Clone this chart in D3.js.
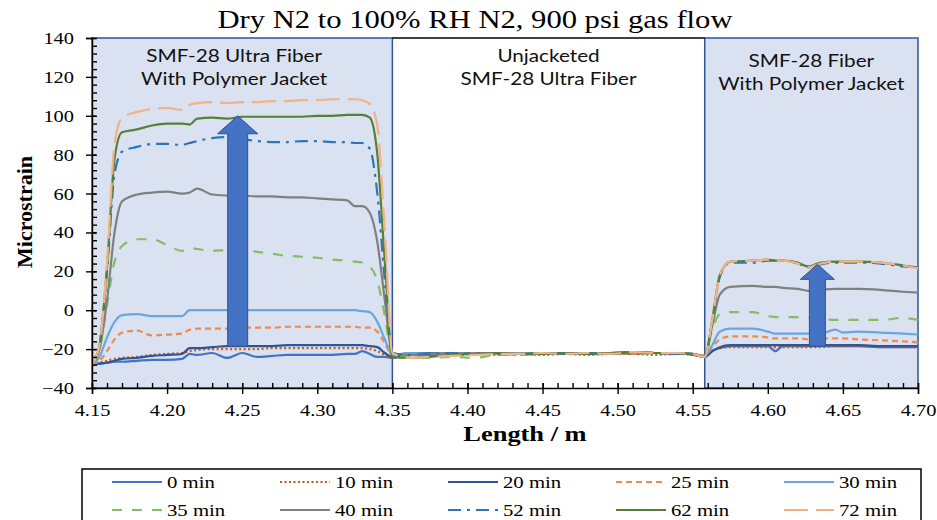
<!DOCTYPE html>
<html lang="en">
<head>
  <meta charset="utf-8"/>
  <script src="https://d3js.org/d3.v7.min.js"></script>
  <style>
    body { margin: 0; background: #fff; }
    .serif { font-family: "Liberation Serif", "Times New Roman", serif; fill: #000; }
    .note  { font-family: Lato, "Noto Sans", sans-serif; fill: #111; }
  </style>
</head>
<body>
<div id="chart"></div>
<script>
  // distance along the fibre (m): jacketed ultra | unjacketed | jacketed standard
  const lengthM = [
    4.150, 4.155, 4.160, 4.165, 4.170, 4.180, 4.190, 4.200, 4.210, 4.215, 4.220, 4.230, 4.240, 4.250,
    4.260, 4.270, 4.280, 4.290, 4.300, 4.310, 4.320, 4.325, 4.330, 4.335, 4.340, 4.345, 4.350,
    4.360, 4.375, 4.390, 4.405, 4.420, 4.435, 4.450, 4.465, 4.480, 4.495, 4.510, 4.525, 4.540, 4.550, 4.558,
    4.563, 4.568, 4.575, 4.590, 4.600, 4.605, 4.610, 4.620, 4.627, 4.635, 4.645, 4.650, 4.660, 4.675, 4.690, 4.700
  ];

  const min0 = [
    -28, -27.5, -27, -26.5, -26.5, -26, -25.5, -25.5, -25, -22.5, -23, -22, -24.5, -22,
    -24, -23.5, -23, -23, -23, -23, -22.5, -22.5, -21, -22.5, -24, -24, -24.5,
    -22, -23, -22.5, -22, -22.5, -22, -22.5, -22, -22.5, -22, -22.5, -22, -22, -23, -24,
    -21, -19.5, -18.5, -18.5, -18.5, -21, -18.5, -18.5, -18.5, -18.5, -18.5, -18.5, -18.5, -19, -19, -19
  ];
  const min10 = [
    -28, -27, -26, -25, -24.5, -24, -23, -22.5, -22, -21, -20.5, -20, -20, -20,
    -20, -19.5, -19.5, -19.5, -19.5, -19.5, -19.5, -19.5, -19.5, -20, -21, -23, -24.5,
    -23, -22.5, -23, -22.5, -23, -22.5, -23, -22.5, -23, -22.5, -22.5, -23, -22.5, -23, -24,
    -21, -19.5, -19, -19, -19, -19, -19, -19, -19, -19, -18.5, -18.5, -18.5, -19, -19, -19
  ];
  const min20 = [
    -28, -27.5, -27, -26, -25, -24.5, -23.5, -23, -22.5, -19.5, -19.5, -19, -18.5, -18.5,
    -18.5, -18.5, -18, -18, -18, -18, -18, -18, -18, -18.5, -19, -22, -24,
    -22.5, -22, -22.5, -22, -22, -22.5, -22, -22.5, -22, -22.5, -21.5, -22, -22, -22.5, -24,
    -21, -19, -18, -18, -18, -18, -18, -18, -18, -18, -18, -18, -18, -18.5, -18.5, -18.5
  ];
  const min25 = [
    -28, -26, -21, -15, -11.5, -10.5, -13, -12.5, -12, -10, -9.5, -9.5, -9.5, -9,
    -9, -9, -8.5, -8.5, -8.5, -8.5, -8.5, -8.5, -9, -9, -11, -17, -23,
    -23, -22.5, -23, -22, -22.5, -23, -22.5, -22, -22.5, -22, -22.5, -22, -22.5, -22.5, -23.5,
    -19, -15, -13.5, -13.5, -14, -14.5, -14.5, -14.5, -15, -14.5, -14.5, -14.5, -15, -15.5, -16, -16.5
  ];
  const min30 = [
    -28, -24, -14, -6, -2.5, -2, -3, -3, -3, 0, 0, 0, 0, 0,
    0, 0, 0, 0, 0, 0, 0, 0, -0.5, -1, -6, -15, -23,
    -22, -22.5, -22, -22.5, -22, -22, -22.5, -22, -22, -22.5, -21.5, -22, -22, -22.5, -23.5,
    -18, -11, -9.5, -9.5, -11, -12, -12, -12, -12, -12, -10, -11.5, -11, -11.5, -12, -12.5
  ];
  const min35 = [
    -28, -20, 3, 25, 33, 36.5, 36.5, 33.5, 30.5, 32, 31.5, 30.5, 31, 31,
    30, 29, 28, 27.5, 27, 26, 25.5, 25, 24.5, 22.5, 15, -3, -24,
    -24, -24.5, -24, -24.5, -23, -23, -22.5, -22, -22.5, -22, -22, -22.5, -22, -22.5, -23.5,
    -10, -2, -1, -1, -3, -3.5, -3.5, -3.5, -4, -4.5, -5, -5, -5, -5, -4, -5
  ];
  const min40 = [
    -28, -20, 5, 40, 56, 59.5, 60.5, 61, 60, 60.5, 62.5, 59.5, 59, 59,
    58.5, 58.5, 58, 58, 57.5, 57, 56.5, 53.5, 53.5, 50, 35, 5, -22,
    -23, -22.5, -22, -22.5, -22, -22.5, -22, -22, -22.5, -22, -21.5, -22, -22.5, -22.5, -23.5,
    -8, 8, 12, 12.5, 12, 12, 11.5, 11, 10, 10.5, 11, 11, 11, 10.5, 9.5, 9
  ];
  const min52 = [
    -28, -18, 20, 70, 81.5, 84, 85.5, 85.5, 85, 86, 87, 88.5, 89, 88,
    87, 86.5, 86.5, 87, 87, 86.5, 86.5, 86, 86, 83, 60, 15, -22,
    -23, -22.5, -22, -22.5, -22, -22.5, -22, -22, -22, -22.5, -21.5, -22, -22.5, -22.5, -24,
    -6, 17, 24.5, 24.5, 25.5, 25.5, 25.5, 24, 22, 23.5, 24.5, 24.5, 24.5, 24, 22.5, 22
  ];
  const min62 = [
    -28, -18, 22, 78, 91.5, 93, 95, 96, 96, 95.5, 98.5, 99, 98.5, 99.5,
    99.5, 99.5, 99.5, 99.5, 100, 100, 100.5, 100.5, 100.5, 99, 80, 25, -24,
    -24.5, -24, -23, -22.5, -22, -22.5, -22.5, -22, -22.5, -22, -21.5, -22, -22, -22.5, -24,
    -5, 18, 25, 25.5, 26, 25.5, 25.5, 24.5, 22.5, 24.5, 25, 25, 25, 24.5, 23, 22
  ];
  const min72 = [
    -28, -18, 25, 85, 99, 102, 103.5, 104, 103, 105.5, 106.5, 107, 106.5, 107,
    107, 107.5, 107.5, 108, 108, 108.5, 108.5, 108.5, 108, 106, 95, 40, -22,
    -24.5, -24, -23.5, -23, -22.5, -22.5, -22, -22.5, -22, -22.5, -21.5, -22, -22, -22.5, -24,
    -5, 18, 25, 25.5, 26, 25.5, 25.5, 24, 22, 24, 25, 25, 25, 24.5, 23, 21.5
  ];

  const seriesNames = ["0 min", "10 min", "20 min", "25 min", "30 min",
                       "35 min", "40 min", "52 min", "62 min", "72 min"];
  const seriesValues = [min0, min10, min20, min25, min30, min35, min40, min52, min62, min72];

  // shaded sections and their captions
  const sections = [
    {from: 4.15,  to: 4.35,  shaded: true,  lines: ["SMF-28 Ultra Fiber", "With Polymer Jacket"]},
    {from: 4.35,  to: 4.558, shaded: false, lines: ["Unjacketed", "SMF-28 Ultra Fiber"]},
    {from: 4.558, to: 4.70,  shaded: true,  lines: ["SMF-28 Fiber", "With Polymer Jacket"]}
  ];
  // trend arrows: position (m), start and tip (microstrain)
  const arrowX    = [4.247, 4.633];
  const arrowFrom = [-18.5, -18.5];
  const arrowTo   = [100, 23.6];

  const xTicks = d3.range(4.15, 4.7001, 0.05);
  const yTicks = d3.range(-40, 141, 20);

  const W = 937, H = 520;
  const svg = d3.select("#chart").append("svg").attr("width", W).attr("height", H);

  const x = d3.scaleLinear().domain([4.15, 4.70]).range([92, 918]);
  const y = d3.scaleLinear().domain([-40, 140]).range([388, 38]);

  // horizontal widening, the source picture is stretched sideways
  function stretch(sel, k) {
    sel.each(function() {
      const w = this.getComputedTextLength();
      d3.select(this).attr("textLength", w * k).attr("lengthAdjust", "spacingAndGlyphs");
    });
  }

  // section boxes
  svg.append("g").selectAll("rect")
    .data(sections.filter(d => d.shaded))
    .join("rect")
    .attr("x", d => x(d.from)).attr("y", y(140))
    .attr("width", d => x(d.to) - x(d.from)).attr("height", y(-40) - y(140))
    .attr("fill", "#dae1f1").attr("stroke", "#2f5597").attr("stroke-width", 1.5);

  svg.append("line")
    .attr("x1", x(4.35)).attr("x2", x(4.558)).attr("y1", y(140)).attr("y2", y(140))
    .attr("stroke", "#000").attr("stroke-width", 1.5);

  // series
  const styles = [
    {color: "#4472c4", dash: null},
    {color: "#c55a11", dash: "2,2.5"},
    {color: "#2f5597", dash: null},
    {color: "#ed8b4f", dash: "6,4"},
    {color: "#6aa6de", dash: null},
    {color: "#84bf5f", dash: "10,10"},
    {color: "#808080", dash: null},
    {color: "#2e75b6", dash: "13,6,3,6"},
    {color: "#548235", dash: null},
    {color: "#f4b183", dash: "24,8"}
  ];

  const line = d3.line()
    .x((d, i) => x(lengthM[i]))
    .y(d => y(d))
    .curve(d3.curveMonotoneX);

  svg.append("g").selectAll("path")
    .data(seriesValues)
    .join("path")
    .attr("d", line)
    .attr("fill", "none")
    .attr("stroke", (d, i) => styles[i].color)
    .attr("stroke-width", 2.2)
    .attr("stroke-dasharray", (d, i) => styles[i].dash);

  // axes
  const yMajor = svg.append("g").attr("transform", `translate(${x(4.15)},0)`)
    .call(d3.axisLeft(y).tickValues(yTicks).tickSize(6).tickPadding(12));
  yMajor.selectAll(".tick line").attr("x1", 4);
  svg.append("g").attr("transform", `translate(${x(4.15)},0)`)
    .call(d3.axisLeft(y).tickValues(d3.range(-40, 141, 4)).tickSize(-5).tickFormat(""))
    .call(g => g.select(".domain").remove());

  const xMajor = svg.append("g").attr("transform", `translate(0,${y(-40)})`)
    .call(d3.axisBottom(x).tickValues(xTicks).tickSize(6).tickPadding(10).tickFormat(d3.format(".2f")));
  xMajor.selectAll(".tick line").attr("y1", -5);
  svg.append("g").attr("transform", `translate(0,${y(-40)})`)
    .call(d3.axisBottom(x).tickValues(d3.range(4.15, 4.7001, 0.01)).tickSize(-5).tickFormat(""))
    .call(g => g.select(".domain").remove());

  svg.selectAll(".domain, .tick line").attr("stroke", "#000").attr("stroke-width", 1.4);
  [yMajor, xMajor].forEach(g => g.selectAll(".tick text")
    .attr("class", "serif").attr("font-size", 17).attr("fill", "#000"));
  stretch(yMajor.selectAll(".tick text"), 1.2);
  stretch(xMajor.selectAll(".tick text"), 1.2);

  // arrows
  arrowX.forEach((ax, i) => {
    const big = i === 0;
    const sw = big ? 10 : 8, hw = big ? 20 : 17, hl = big ? 18 : 15;
    const cx = x(ax), y0 = y(arrowFrom[i]), y1 = y(arrowTo[i]);
    const pts = [[cx - sw, y0], [cx - sw, y1 + hl], [cx - hw, y1 + hl], [cx, y1],
                 [cx + hw, y1 + hl], [cx + sw, y1 + hl], [cx + sw, y0]];
    svg.append("path")
      .attr("d", d3.line()(pts) + "Z")
      .attr("fill", "#4472c4").attr("stroke", "#2f528f").attr("stroke-width", 1);
  });

  // section captions
  const cap = svg.append("g");
  sections.forEach(s => {
    const cx = (x(s.from) + x(s.to)) / 2 + (s.from === 4.15 ? -8 : 0);
    s.lines.forEach((t, j) => {
      cap.append("text").attr("class", "note")
        .attr("x", cx).attr("y", (s.from === 4.558 ? 67 : 62) + j * 23)
        .attr("text-anchor", "middle").attr("font-size", 18).text(t);
    });
  });
  stretch(cap.selectAll("text"), 1.15);

  // titles
  svg.append("text").attr("class", "serif")
    .attr("x", 475).attr("y", 28).attr("text-anchor", "middle")
    .attr("font-size", 26).attr("textLength", 515).attr("lengthAdjust", "spacingAndGlyphs")
    .text("Dry N2 to 100% RH N2, 900 psi gas flow");

  const xl = svg.append("text").attr("class", "serif")
    .attr("x", 525).attr("y", 441).attr("text-anchor", "middle")
    .attr("font-size", 22).attr("font-weight", "bold").text("Length / m");
  stretch(xl, 1.2);

  svg.append("text").attr("class", "serif")
    .attr("transform", "translate(32,212) rotate(-90)").attr("text-anchor", "middle")
    .attr("font-size", 22).attr("font-weight", "bold").text("Microstrain");

  // legend
  const leg = svg.append("g");
  leg.append("rect").attr("x", 82).attr("y", 469).attr("width", 839).attr("height", 70)
    .attr("fill", "#fff").attr("stroke", "#000").attr("stroke-width", 1.5);
  seriesNames.forEach((name, i) => {
    const lx = 112 + (i % 5) * 168, ly = 482 + Math.floor(i / 5) * 28;
    leg.append("line").attr("x1", lx).attr("x2", lx + 50).attr("y1", ly).attr("y2", ly)
      .attr("stroke", styles[i].color).attr("stroke-width", 2.2)
      .attr("stroke-dasharray", styles[i].dash);
    leg.append("text").attr("class", "serif legtext")
      .attr("x", lx + 55).attr("y", ly + 5.5).attr("font-size", 17).text(name);
  });
  stretch(leg.selectAll(".legtext"), 1.22);
</script>
</body>
</html>
